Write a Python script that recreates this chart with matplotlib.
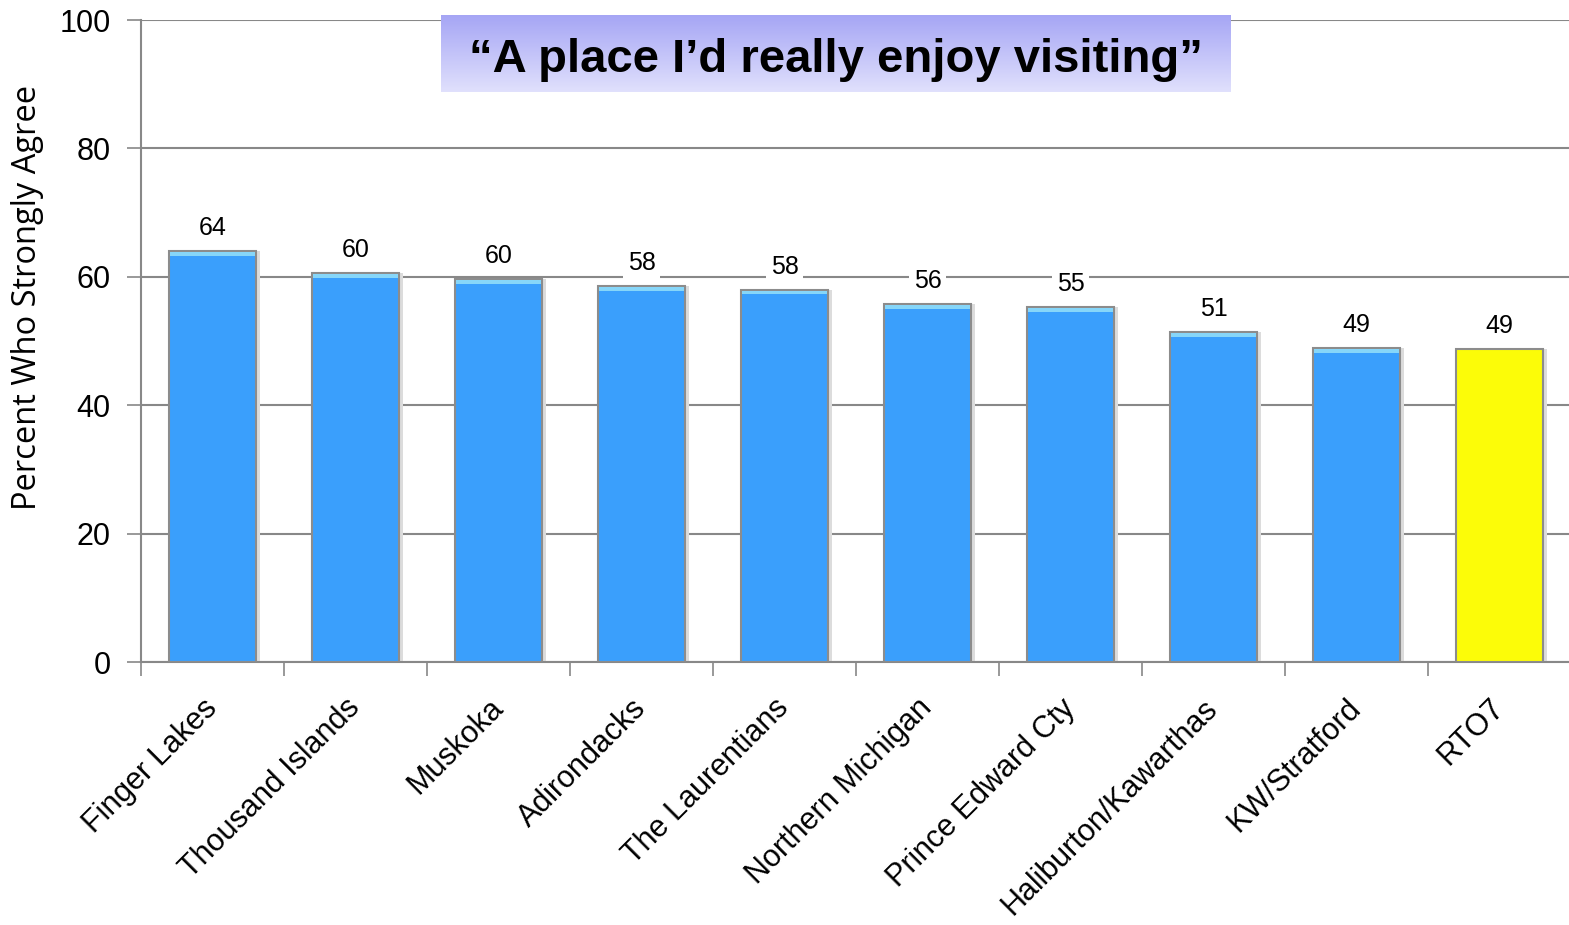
import numpy as np
import matplotlib
matplotlib.use("Agg")
import matplotlib.pyplot as plt
from matplotlib import font_manager

# data
regions = ["Finger Lakes", "Thousand Islands", "Muskoka", "Adirondacks",
           "The Laurentians", "Northern Michigan", "Prince Edward Cty",
           "Haliburton/Kawarthas", "KW/Stratford", "RTO7"]
values = [64.0, 60.6, 59.7, 58.6, 58.0, 55.8, 55.3, 51.4, 48.9, 48.8]
value_labels = ["64", "60", "60", "58", "58", "56", "55", "51", "49", "49"]
bar_colors = ["#3a9ffc"] * 9 + ["#fcfc08"]
title = "\u201cA place I\u2019d really enjoy visiting\u201d"
ylabel = "Percent Who Strongly Agree"

names = {f.name for f in font_manager.fontManager.ttflist}
title_font = "Liberation Sans Narrow" if "Liberation Sans Narrow" in names else "Liberation Sans"
plt.rcParams["font.family"] = ["Liberation Sans", "DejaVu Sans"]

W, H = 1569, 925
fig = plt.figure(figsize=(W / 100, H / 100), dpi=100)
ax = fig.add_axes([141 / W, (H - 662) / H, 1430 / W, 642 / H])

x = np.arange(len(regions))
bw = 0.61
# soft shadow
ax.bar(x + 0.03, values, width=bw, color="#dcdcdc", zorder=2, linewidth=0)
ax.bar(x, values, width=bw, color=bar_colors, edgecolor="#8c8c8c",
       linewidth=1.5, zorder=3)
# bevel highlight at top of blue bars
for i, v in enumerate(values[:-1]):
    ax.bar(x[i], 0.6, bottom=v - 0.75, width=bw - 0.015, color="#86d6f9",
           linewidth=0, zorder=4)

for i, (v, lab) in enumerate(zip(values, value_labels)):
    ax.text(x[i], v + 1.7, lab, ha="center", va="bottom", fontsize=18,
            zorder=5, bbox=dict(facecolor="white", edgecolor="none", pad=3))

ax.set_xlim(-0.5, len(regions) - 0.5)
ax.set_ylim(0, 100)
ax.set_yticks(range(0, 101, 20))
ax.tick_params(axis="y", labelsize=22, length=10, width=1.2, color="#888888", pad=12)
ax.yaxis.grid(True, color="#888888", linewidth=1.5, zorder=0)
ax.set_axisbelow(True)

ax.set_xticks(x)
ax.set_xticks(np.arange(-0.5, len(regions), 1.0), minor=True)
ax.tick_params(axis="x", which="major", length=0, pad=30)
ax.tick_params(axis="x", which="minor", length=10, width=1.2, color="#888888")
ax.set_xticklabels(regions, rotation=45, ha="right", va="center",
                   rotation_mode="anchor", fontsize=22)
for lbl in ax.get_xticklabels():
    lbl.set_x(lbl.get_position()[0] + 0.05)

for s in ["top", "right"]:
    ax.spines[s].set_visible(False)
for s in ["left", "bottom"]:
    ax.spines[s].set_color("#888888")
    ax.spines[s].set_linewidth(1.5)

fig.text(28 / W, 1 - 297 / H, ylabel, rotation=90, ha="center", va="center",
         fontsize=23.5, family=["Open Sans", "DejaVu Sans"])

# title box with vertical gradient
tax = fig.add_axes([441 / W, (H - 92) / H, 790 / W, 77 / H])
grad = np.linspace(0, 1, 100).reshape(-1, 1)
top = np.array([0.65, 0.65, 0.96])
bot = np.array([0.88, 0.88, 0.99])
img = top + (bot - top) * grad[..., None]
tax.imshow(img, aspect="auto", extent=[0, 1, 0, 1])
tax.set_axis_off()
tax.text(0.5, 0.42, title, ha="center", va="center", fontsize=34,
         fontweight="bold", family=[title_font, "DejaVu Sans"],
         transform=tax.transAxes)

fig.savefig("out.png", dpi=100)
